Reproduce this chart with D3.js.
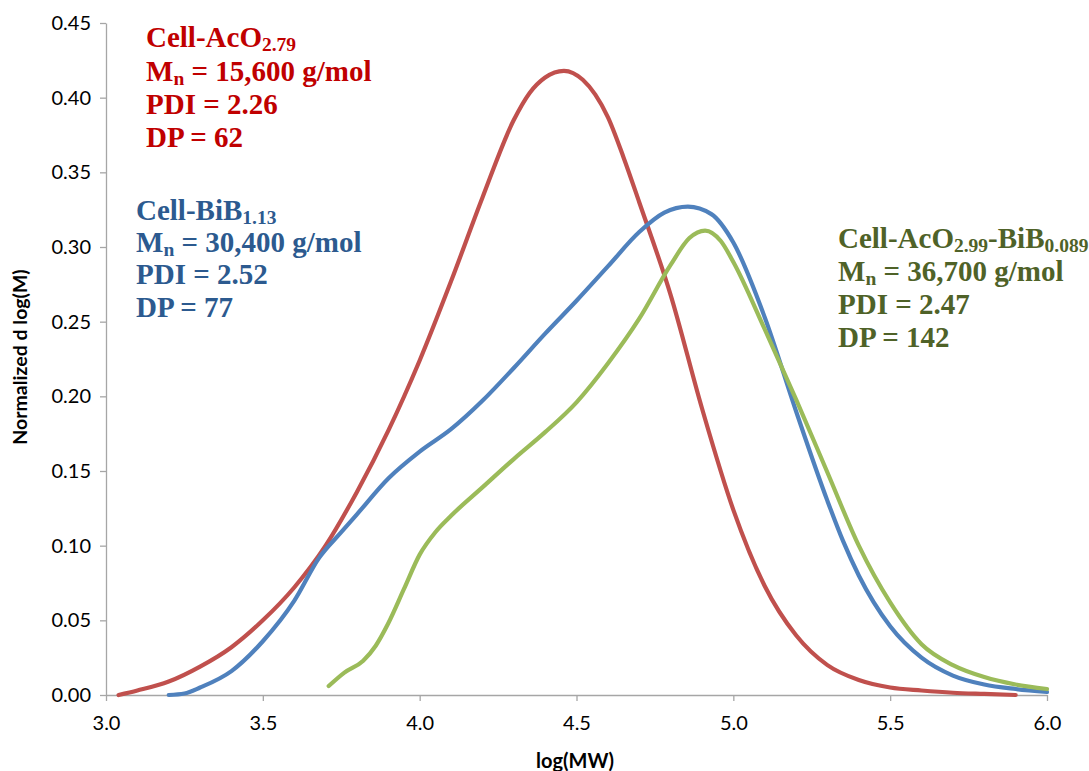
<!DOCTYPE html>
<html><head><meta charset="utf-8">
<script src="https://cdn.jsdelivr.net/npm/d3@7"></script>
<style>body{margin:0;background:#fff}svg{display:block}</style>
</head><body>
<svg id="c" width="1089" height="771"></svg>
<script>
const xTicks = [3.0, 3.5, 4.0, 4.5, 5.0, 5.5, 6.0];
const yTicks = [0, 0.05, 0.10, 0.15, 0.20, 0.25, 0.30, 0.35, 0.40, 0.45];

const redX = [3.04,3.1,3.2,3.3,3.4,3.5,3.6,3.7,3.8,3.9,4.0,4.1,4.2,4.3,4.35,4.4,4.46,4.52,4.56,4.6,4.65,4.7,4.8,4.9,5.0,5.1,5.2,5.3,5.4,5.5,5.6,5.7,5.8,5.9];
const redY = [0,0.003,0.009,0.019,0.032,0.05,0.072,0.1,0.136,0.177,0.224,0.277,0.333,0.385,0.403,0.4135,0.418,0.412,0.402,0.387,0.36,0.33,0.268,0.192,0.124,0.073,0.04,0.02,0.01,0.005,0.003,0.0015,0.0007,0];

const blueX = [3.2,3.25,3.3,3.4,3.5,3.6,3.68,3.75,3.8,3.9,4.0,4.1,4.2,4.3,4.4,4.5,4.6,4.7,4.78,4.855,4.93,5.0,5.1,5.2,5.3,5.35,5.4,5.5,5.6,5.7,5.8,5.9,6.0];
const blueY = [0,0.001,0.005,0.016,0.036,0.063,0.092,0.109,0.121,0.145,0.163,0.178,0.197,0.219,0.242,0.264,0.287,0.31,0.323,0.327,0.322,0.303,0.253,0.19,0.13,0.103,0.08,0.046,0.025,0.013,0.007,0.004,0.002];

const greenX = [3.71,3.76,3.82,3.86,3.9,3.95,4.0,4.05,4.1,4.2,4.3,4.4,4.5,4.6,4.7,4.8,4.86,4.91,4.96,5.0,5.1,5.2,5.3,5.4,5.5,5.6,5.7,5.8,5.9,6.0];
const greenY = [0.006,0.015,0.023,0.033,0.048,0.071,0.094,0.109,0.12,0.139,0.158,0.176,0.196,0.222,0.252,0.288,0.306,0.311,0.304,0.29,0.245,0.198,0.149,0.1,0.062,0.034,0.02,0.012,0.007,0.004];

const svg = d3.select("#c");
const x = d3.scaleLinear().domain([3, 6]).range([106, 1047]);
const y = d3.scaleLinear().domain([0, 0.45]).range([695, 23]);
const axisColor = "#a6a6a6";
const tickFont = "Lato, 'Open Sans', sans-serif";

const gx = svg.append("g").attr("transform", `translate(0,${y(0)})`)
  .call(d3.axisBottom(x).tickValues(xTicks).tickFormat(d3.format(".1f")).tickSize(6).tickSizeOuter(0));
const gy = svg.append("g").attr("transform", `translate(${x(3)},0)`)
  .call(d3.axisLeft(y).tickValues(yTicks).tickFormat(d3.format(".2f")).tickSize(6).tickSizeOuter(0));
[gx, gy].forEach(g => {
  g.select(".domain").attr("stroke", axisColor).attr("stroke-width", 1.3);
  g.selectAll(".tick line").attr("stroke", axisColor).attr("stroke-width", 1.3);
  g.selectAll(".tick text").attr("fill", "#000").style("font-family", tickFont).style("font-size", "20px");
});
gx.selectAll(".tick text").attr("dy", "1.3em");
gy.selectAll(".tick text").attr("dx", "-0.3em");

svg.append("text").attr("transform", "translate(27,357) rotate(-90)")
  .attr("text-anchor", "middle").style("font-family", tickFont).style("font-weight", "bold")
  .style("font-size", "19.5px").text("Normalized d log(M)");
svg.append("text").attr("x", 575).attr("y", 768)
  .attr("text-anchor", "middle").style("font-family", tickFont).style("font-weight", "bold")
  .style("font-size", "20px").text("log(MW)");

const line = d3.line().x(d => x(d[0])).y(d => y(d[1])).curve(d3.curveMonotoneX);
const series = [
  {xs: redX, ys: redY, c: "#c0504d"},
  {xs: blueX, ys: blueY, c: "#4f81bd"},
  {xs: greenX, ys: greenY, c: "#9bbb59"}
];
series.forEach(s => {
  svg.append("path").datum(s.xs.map((v, i) => [v, s.ys[i]]))
    .attr("d", line).attr("fill", "none").attr("stroke", s.c)
    .attr("stroke-width", 4.2).attr("stroke-linecap", "round").attr("stroke-linejoin", "round");
});

function block(x0, baselines, color, lines) {
  const g = svg.append("g").style("font-family", "'Liberation Serif', 'Times New Roman', serif")
    .style("font-weight", "bold").style("font-size", "29px").attr("fill", color);
  lines.forEach((parts, i) => {
    const t = g.append("text").attr("x", x0).attr("y", baselines[i]);
    parts.forEach(p => {
      const ts = t.append("tspan").text(p[0]);
      if (p[1]) ts.style("font-size", "19.5px").attr("dy", 4);
      else if (p[2]) ts.attr("dy", -4);
    });
  });
}
block(146, [47, 81, 114, 147], "#c00000", [
  [["Cell-AcO"], ["2.79", 1]],
  [["M"], ["n", 1], [" = 15,600 g/mol", 0, 1]],
  [["PDI = 2.26"]],
  [["DP = 62"]]
]);
block(136, [220, 252, 284, 317], "#2c5a8f", [
  [["Cell-BiB"], ["1.13", 1]],
  [["M"], ["n", 1], [" = 30,400 g/mol", 0, 1]],
  [["PDI = 2.52"]],
  [["DP = 77"]]
]);
block(838, [248, 281, 314, 347], "#4f6228", [
  [["Cell-AcO"], ["2.99", 1], ["-BiB", 0, 1], ["0.089", 1]],
  [["M"], ["n", 1], [" = 36,700 g/mol", 0, 1]],
  [["PDI = 2.47"]],
  [["DP = 142"]]
]);
</script>
</body></html>
